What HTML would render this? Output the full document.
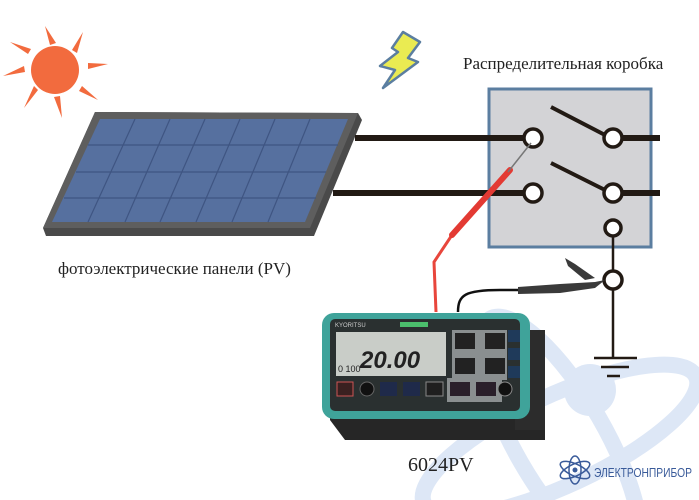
<!DOCTYPE html>
<html><head><meta charset="utf-8"><style>
html,body{margin:0;padding:0;background:#fff;width:699px;height:500px;overflow:hidden}
svg{display:block}
text{font-family:"Liberation Serif",serif}
.s{font-family:"Liberation Sans",sans-serif}
</style></head><body>
<svg width="699" height="500" viewBox="0 0 699 500" xmlns="http://www.w3.org/2000/svg">
<!-- watermark -->
<g fill="none" stroke="#dde7f6" stroke-width="16">
<ellipse cx="560" cy="440" rx="150" ry="45" transform="rotate(-25 560 440)"/>
<ellipse cx="560" cy="440" rx="140" ry="45" transform="rotate(60 560 440)"/>
</g>
<circle cx="590" cy="390" r="26" fill="#dde7f6"/>
<!-- sun -->
<g fill="#f26b3e">
<circle cx="55" cy="70" r="24"/>
<polygon points="45,26 50,45 56,43"/>
<polygon points="83,32 72,50 77,53"/>
<polygon points="108,64 88,63 88,69"/>
<polygon points="98,100 82,86 79,91"/>
<polygon points="62,118 60,96 54,97"/>
<polygon points="24,108 38,90 34,86"/>
<polygon points="3,76 25,72 24,66"/>
<polygon points="10,42 28,54 31,49"/>
</g>
<!-- lightning -->
<polygon points="403,32 420,42 408,58 418,62 383,88 395,70 380,66 398,52 392,48" fill="#eaeb52" stroke="#5b7ea0" stroke-width="2.5" stroke-linejoin="round"/>
<!-- panel -->
<polygon points="95,112 358,113 362,120 314,236 46,236 43,228" fill="#4a4a4a"/>
<polygon points="95,112 358,113 310,228 43,228" fill="#5e5e5e"/>
<polygon points="100,119 348,119 305,222 52,222" fill="#56709f"/>
<g stroke="#3f5582" stroke-width="1.2">
<line x1="88" y1="145" x2="338" y2="145"/>
<line x1="76" y1="172" x2="326" y2="172"/>
<line x1="64" y1="198" x2="316" y2="198"/>
<line x1="135" y1="119" x2="88" y2="222"/>
<line x1="170" y1="119" x2="125" y2="222"/>
<line x1="205" y1="119" x2="160" y2="222"/>
<line x1="240" y1="119" x2="196" y2="222"/>
<line x1="275" y1="119" x2="232" y2="222"/>
<line x1="310" y1="119" x2="268" y2="222"/>
</g>
<!-- junction box -->
<rect x="489" y="89" width="162" height="158" fill="#d3d3d6" stroke="#5b7ea0" stroke-width="3"/>
<g stroke="#221a14" stroke-width="6">
<line x1="355" y1="138" x2="533" y2="138"/>
<line x1="333" y1="193" x2="533" y2="193"/>
<line x1="613" y1="138" x2="660" y2="138"/>
<line x1="613" y1="193" x2="660" y2="193"/>
</g>
<g stroke="#221a14" stroke-width="4">
<line x1="551" y1="107" x2="605" y2="135"/>
<line x1="551" y1="163" x2="605" y2="190"/>
</g>
<g stroke="#221a14" stroke-width="2.5">
<line x1="613" y1="236" x2="613" y2="358"/>
<line x1="594" y1="358" x2="637" y2="358"/>
<line x1="601" y1="367" x2="629" y2="367"/>
<line x1="607" y1="376" x2="620" y2="376"/>
</g>
<g fill="#fff" stroke="#221a14" stroke-width="3.5">
<circle cx="533" cy="138" r="9"/><circle cx="613" cy="138" r="9"/>
<circle cx="533" cy="193" r="9"/><circle cx="613" cy="193" r="9"/>
<circle cx="613" cy="228" r="8"/><circle cx="613" cy="280" r="9"/>
</g>
<!-- red lead -->
<path d="M436 312 L434 262 L452 235" fill="none" stroke="#e8463c" stroke-width="3"/>
<line x1="452" y1="235" x2="510" y2="170" stroke="#e33a33" stroke-width="6" stroke-linecap="round"/>
<line x1="508" y1="172" x2="531" y2="143" stroke="#777" stroke-width="1.5"/>
<!-- black lead -->
<path d="M458 312 C458 295 465 290 500 290 L520 290" fill="none" stroke="#111" stroke-width="2.5"/>
<path d="M518 287 L560 284 L595 282 L605 280 L595 288 L560 293 L518 294 Z" fill="#3a3a3a"/>
<polygon points="565,258 575,264 595,278 585,280 568,266" fill="#3a3a3a"/>
<!-- meter -->
<path d="M330 405 L545 405 L545 440 L345 440 L330 420 Z" fill="#262626"/>
<rect x="515" y="330" width="30" height="100" fill="#2c2c2c"/>
<rect x="322" y="313" width="208" height="106" rx="12" fill="#3fa39a"/>
<rect x="330" y="319" width="190" height="92" rx="5" fill="#2a3030"/>
<rect x="336" y="332" width="110" height="44" fill="#c9cdc8"/>
<text class="s" x="360" y="368" font-size="24" font-weight="bold" fill="#222" font-style="italic">20.00</text>
<text class="s" x="338" y="372" font-size="9" fill="#222">0 100</text>
<text class="s" x="335" y="327" font-size="6" fill="#ccc">KYORITSU</text>
<rect x="400" y="322" width="28" height="5" fill="#4bc06d"/>
<rect x="452" y="330" width="55" height="50" fill="#8a8f90"/>
<rect x="455" y="333" width="20" height="16" fill="#222"/><rect x="485" y="333" width="20" height="16" fill="#222"/>
<rect x="455" y="358" width="20" height="16" fill="#222"/><rect x="485" y="358" width="20" height="16" fill="#222"/>
<rect x="508" y="330" width="12" height="12" fill="#1f3a5a"/><rect x="508" y="348" width="12" height="12" fill="#1f3a5a"/>
<rect x="508" y="366" width="12" height="12" fill="#1f3a5a"/>
<rect x="337" y="382" width="16" height="14" fill="#3a2020" stroke="#c55" stroke-width="1"/>
<circle cx="367" cy="389" r="7" fill="#111" stroke="#666"/>
<rect x="380" y="382" width="17" height="14" fill="#1f2a4a"/>
<rect x="403" y="382" width="17" height="14" fill="#1f2a4a"/>
<rect x="426" y="382" width="17" height="14" fill="#1f1f1f" stroke="#888" stroke-width="1"/>
<rect x="447" y="378" width="55" height="24" fill="#8a8f90"/>
<rect x="450" y="382" width="20" height="14" fill="#2a1f2a"/><rect x="476" y="382" width="20" height="14" fill="#2a1f2a"/>
<circle cx="505" cy="389" r="7" fill="#111" stroke="#888"/>
<!-- labels -->
<text x="463" y="69" font-size="17" fill="#222">Распределительная коробка</text>
<text x="58" y="274" font-size="17" fill="#222">фотоэлектрические панели (PV)</text>
<text x="408" y="471" font-size="20" fill="#222">6024PV</text>
<g fill="none" stroke="#3a5b9a" stroke-width="1.5">
<ellipse cx="575" cy="470" rx="16" ry="6" transform="rotate(25 575 470)"/>
<ellipse cx="575" cy="470" rx="16" ry="6" transform="rotate(-25 575 470)"/>
<ellipse cx="575" cy="470" rx="6" ry="14"/>
</g>
<circle cx="575" cy="470" r="2.5" fill="#3a5b9a"/>
<text class="s" x="594" y="477" font-size="13" fill="#3a5b9a" textLength="98" lengthAdjust="spacingAndGlyphs">ЭЛЕКТРОНПРИБОР</text>
</svg>
</body></html>
